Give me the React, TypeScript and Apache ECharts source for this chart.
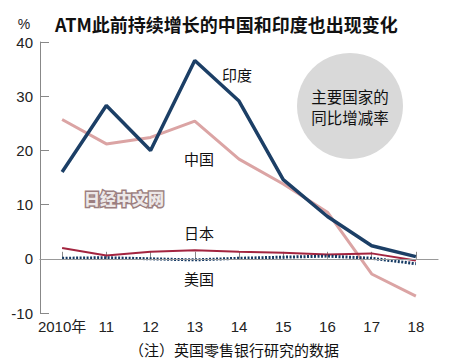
import React, { useEffect, useRef } from "react";
import * as echarts from "echarts";

const years = ["2010年", "11", "12", "13", "14", "15", "16", "17", "18"];
const india = [16.0, 28.3, 20.0, 36.6, 29.1, 14.6, 7.8, 2.4, 0.4];
const china = [25.7, 21.2, 22.4, 25.4, 18.4, 13.8, 8.6, -2.8, -6.9];
const japan = [2.0, 0.6, 1.3, 1.6, 1.3, 1.1, 0.8, 1.0, -0.3];
const usa = [0.1, 0.2, 0.0, -0.2, 0.1, 0.3, 0.5, 0.1, -0.9];
const yTicks = { min: -10, max: 40, interval: 10 };

const FONT = "'Liberation Sans', 'Noto Sans CJK SC', sans-serif";
const CJK = "'Noto Sans CJK SC', sans-serif";

export default function App() {
  const ref = useRef<HTMLDivElement>(null);
  useEffect(() => {
    if (!ref.current) return;
    const chart = echarts.init(ref.current, null, { renderer: "svg" });
    const label = (text: string, x: number, y: number, size = 15) => ({
      type: "text",
      x,
      y,
      style: { text, fontSize: size, fontFamily: CJK, fill: "#111", align: "center", verticalAlign: "middle" },
    });
    chart.setOption({
      animation: false,
      backgroundColor: "#ffffff",
      grid: { left: 40, right: 12, top: 42, bottom: 51 },
      xAxis: {
        type: "category",
        data: years,
        boundaryGap: true,
        axisLine: { show: true, lineStyle: { color: "#888", width: 1 } },
        axisTick: { show: true, inside: true, alignWithLabel: true, interval: 0, length: 7, lineStyle: { color: "#888" } },
        axisLabel: { color: "#222", fontSize: 15, fontFamily: FONT, margin: 6, interval: 0 },
        splitLine: { show: false },
      },
      yAxis: {
        type: "value",
        min: yTicks.min,
        max: yTicks.max,
        interval: yTicks.interval,
        axisLine: { show: true, lineStyle: { color: "#888", width: 1 } },
        axisTick: { show: true, inside: true, length: 9, lineStyle: { color: "#888" } },
        axisLabel: { color: "#222", fontSize: 15, fontFamily: FONT, margin: 7 },
        splitLine: { show: false },
      },
      series: [
        {
          name: "中国",
          type: "line",
          data: china,
          symbol: "none",
          z: 2,
          lineStyle: { color: "#dba4a4", width: 3 },
          markLine: {
            silent: true,
            symbol: ["none", "none"],
            label: { show: false },
            lineStyle: { color: "#999", width: 1, type: "solid" },
            data: [{ yAxis: 0 }],
          },
        },
        {
          name: "日本",
          type: "line",
          data: japan,
          symbol: "none",
          z: 3,
          lineStyle: { color: "#a3243f", width: 2 },
        },
        {
          name: "美国",
          type: "line",
          data: usa,
          symbol: "none",
          z: 4,
          lineStyle: { color: "#163a63", width: 3, type: [2, 1.5] },
        },
        {
          name: "印度",
          type: "line",
          data: india,
          symbol: "none",
          z: 5,
          lineStyle: { color: "#1c3f66", width: 3.5 },
        },
      ],
      graphic: [
        {
          type: "text",
          left: 55,
          top: 15,
          style: { text: "ATM此前持续增长的中国和印度也出现变化", fontSize: 18, fontWeight: "bold", fontFamily: CJK, fill: "#111" },
        },
        {
          type: "text",
          x: 24,
          y: 24,
          style: { text: "%", fontSize: 14, fontFamily: FONT, fill: "#222", align: "center", verticalAlign: "middle" },
        },
        {
          type: "circle",
          shape: { cx: 350, cy: 106, r: 53 },
          style: { fill: "#d9d9d9" },
          z: 0,
        },
        label("主要国家的", 350, 96, 15.5),
        label("同比增减率", 350, 117, 15.5),
        label("印度", 237, 74),
        label("中国", 199, 158),
        label("日本", 199, 232),
        label("美国", 199, 278),
        {
          type: "text",
          x: 124,
          y: 198,
          style: {
            text: "日经中文网",
            fontSize: 16,
            fontWeight: 900,
            fontFamily: CJK,
            fill: "#ece8e8",
            stroke: "#9c7f80",
            lineWidth: 3,
            align: "center",
            verticalAlign: "middle",
          },
        },
        label("（注）英国零售银行研究的数据", 234, 349),
      ],
    });
    return () => chart.dispose();
  }, []);
  return <div ref={ref} style={{ width: 450, height: 364, position: "absolute", left: 0, top: 0 }} />;
}
